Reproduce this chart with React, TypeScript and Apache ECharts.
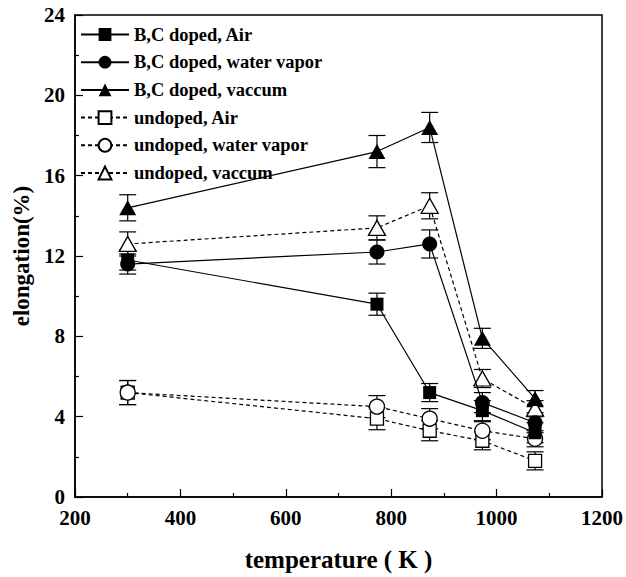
import React, { useEffect, useRef } from "react";
import * as echarts from "echarts";

const temps = [300, 773, 873, 973, 1073];
const seriesNames = [
  "B,C doped, Air",
  "B,C doped, water vapor",
  "B,C doped, vaccum",
  "undoped, Air",
  "undoped, water vapor",
  "undoped, vaccum",
];
const bcAir = [11.8, 9.6, 5.2, 4.3, 3.2];
const bcWater = [11.6, 12.2, 12.6, 4.7, 3.7];
const bcVac = [14.4, 17.2, 18.4, 7.9, 4.9];
const unAir = [5.2, 3.9, 3.3, 2.8, 1.8];
const unWater = [5.2, 4.5, 3.9, 3.3, 2.9];
const unVac = [12.6, 13.4, 14.5, 5.9, 4.4];

const bcAirErr = [0.5, 0.55, 0.45, 0.5, 0.5];
const bcWaterErr = [0.5, 0.6, 0.7, 0.5, 0.5];
const bcVacErr = [0.65, 0.8, 0.75, 0.5, 0.4];
const unAirErr = [0.6, 0.55, 0.5, 0.45, 0.45];
const unWaterErr = [0.6, 0.55, 0.5, 0.45, 0.4];
const unVacErr = [0.6, 0.6, 0.65, 0.45, 0.4];

const xTicks = { min: 200, max: 1200, interval: 200 };
const yTicks = { min: 0, max: 24, interval: 4 };

const FONT = "'Liberation Serif', 'Times New Roman', serif";

export default function App() {
  const ref = useRef<HTMLDivElement>(null);
  useEffect(() => {
    if (!ref.current) return;
    const chart = echarts.init(ref.current, undefined, { renderer: "svg" });

    const values = [bcAir, bcWater, bcVac, unAir, unWater, unVac];
    const errs = [bcAirErr, bcWaterErr, bcVacErr, unAirErr, unWaterErr, unVacErr];
    const symbols = ["rect", "circle", "triangle", "rect", "circle", "triangle"];
    const sizes: any[] = [13, 15, [17, 15], 13, 15, [17, 15]];

    const lineSeries = values.map((vals, i) => {
      const filled = i < 3;
      return {
        name: seriesNames[i],
        type: "line",
        data: temps.map((t, j) => [t, vals[j]]),
        symbol: symbols[i],
        symbolSize: sizes[i],
        showSymbol: true,
        z: 5 + (filled ? 1 : 0),
        lineStyle: {
          color: "#000",
          width: 1.2,
          type: filled ? "solid" : [4, 3],
        },
        itemStyle: {
          color: filled ? "#000" : "#fff",
          borderColor: "#000",
          borderWidth: filled ? 0 : 1.3,
          opacity: 1,
        },
      };
    });

    const errSeries = values.map((vals, i) => ({
      name: "err" + i,
      type: "custom",
      z: 3,
      data: temps.map((t, j) => [t, vals[j] - errs[i][j], vals[j] + errs[i][j]]),
      renderItem: (params: any, api: any) => {
        const x = api.value(0);
        const lo = api.coord([x, api.value(1)]);
        const hi = api.coord([x, api.value(2)]);
        const hw = 8.5;
        const style = { stroke: "#000", lineWidth: 1.2, fill: "none" };
        return {
          type: "group",
          children: [
            { type: "line", shape: { x1: lo[0], y1: lo[1], x2: hi[0], y2: hi[1] }, style },
            { type: "line", shape: { x1: lo[0] - hw, y1: lo[1], x2: lo[0] + hw, y2: lo[1] }, style },
            { type: "line", shape: { x1: hi[0] - hw, y1: hi[1], x2: hi[0] + hw, y2: hi[1] }, style },
          ],
        };
      },
    }));

    const axisCommon = {
      axisLine: { show: true, lineStyle: { color: "#000", width: 1.5 } },
      axisTick: { show: true, inside: true, length: 8, lineStyle: { color: "#000", width: 1.2 } },
      minorTick: { show: true, splitNumber: 2, length: 4, lineStyle: { color: "#000", width: 1.2 } },
      splitLine: { show: false },
      axisLabel: {
        color: "#000",
        fontSize: 21,
        fontWeight: "bold",
        fontFamily: FONT,
        margin: 10,
        formatter: (v: number) => String(v),
      },
      nameTextStyle: { color: "#000", fontWeight: "bold", fontFamily: FONT },
    };

    chart.setOption({
      animation: false,
      backgroundColor: "#fff",
      grid: {
        left: 75,
        right: 24,
        top: 15,
        bottom: 77,
        show: true,
        borderColor: "#000",
        borderWidth: 1.5,
        backgroundColor: "transparent",
      },
      legend: {
        data: seriesNames,
        orient: "vertical",
        left: 75,
        top: 20,
        itemWidth: 48,
        itemHeight: 16,
        itemGap: 8.7,
        textStyle: { color: "#000", fontSize: 18.5, fontWeight: "bold", fontFamily: FONT },
      },
      xAxis: {
        type: "value",
        ...xTicks,
        ...axisCommon,
        name: "temperature ( K )",
        nameLocation: "middle",
        nameGap: 50,
        nameTextStyle: { ...axisCommon.nameTextStyle, fontSize: 25 },
      },
      yAxis: {
        type: "value",
        ...yTicks,
        ...axisCommon,
        name: "elongation(%)",
        nameLocation: "middle",
        nameGap: 37,
        nameTextStyle: { ...axisCommon.nameTextStyle, fontSize: 23 },
      },
      series: [...errSeries, ...lineSeries],
    });
    return () => chart.dispose();
  }, []);
  return <div ref={ref} style={{ width: 626, height: 577, position: "absolute", left: 0, top: 0 }} />;
}
